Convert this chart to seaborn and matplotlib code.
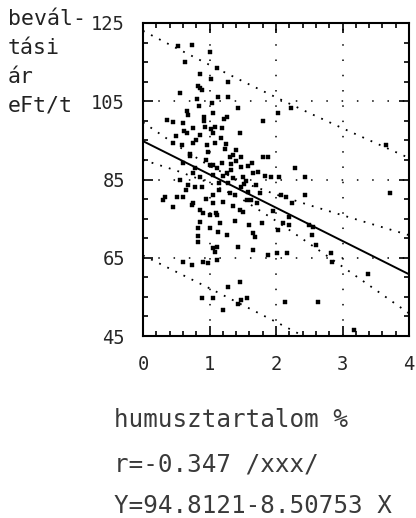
import numpy as np
import pandas as pd
import matplotlib
matplotlib.use("Agg")
import matplotlib.pyplot as plt
import seaborn as sns

# ---- data ----
humus = [0.53, 0.73, 1.00, 0.63, 0.86, 1.11, 1.28, 0.83, 0.88, 0.56, 1.13, 1.28, 0.81, 1.04,
         1.43, 0.66, 1.05, 1.26, 1.80, 2.22, 2.03, 0.36, 0.45, 0.60, 0.75, 0.93, 1.08, 1.19,
         1.46, 0.66, 0.86, 1.05, 0.45, 0.58, 0.75, 0.96, 1.08, 1.25, 1.31, 1.35, 1.47, 1.80,
         1.88, 1.64, 1.05, 1.19, 0.60, 1.32, 1.47, 2.28, 3.66, 0.75, 0.86, 1.05, 1.26, 1.50,
         1.65, 1.73, 1.92, 2.05, 2.43, 1.35, 3.71, 1.00, 1.11, 1.20, 0.68, 0.78, 0.88, 1.47,
         1.58, 1.38, 1.76, 2.07, 2.15, 2.43, 0.33, 0.51, 0.60, 1.05, 1.31, 0.30, 0.45, 0.75,
         1.05, 1.20, 1.56, 1.62, 2.24, 0.73, 0.86, 1.46, 1.50, 0.90, 1.00, 1.11, 2.20, 0.86,
         1.16, 1.79, 1.60, 2.10, 2.20, 2.50, 2.55, 0.83, 1.00, 2.03, 1.65, 1.13, 1.26, 0.83,
         1.68, 2.54, 2.60, 0.83, 1.43, 1.05, 1.11, 1.08, 1.65, 2.01, 2.16, 1.88, 2.82, 0.60,
         0.73, 0.90, 0.98, 1.11, 2.84, 3.38, 1.46, 1.28, 0.88, 1.05, 1.20, 1.43, 1.47, 1.56,
         2.13, 2.63, 3.18, 0.70, 0.95, 1.15, 1.40, 0.50, 1.22, 1.55, 0.92, 1.70, 1.36,
         0.62, 0.80, 0.98, 1.17, 1.33, 0.70, 0.91, 1.02, 1.23, 1.40, 0.55, 0.78, 1.14, 1.52,
         1.72, 1.96, 0.68, 0.84, 1.28, 1.58, 0.95, 1.10, 1.38, 1.84, 0.85, 1.03, 0.65]
price = [119.0, 119.5, 117.5, 115.0, 112.0, 113.5, 110.0, 109.0, 108.0, 107.0, 106.0, 106.0, 105.5, 104.5,
         103.3, 102.5, 102.0, 101.0, 100.0, 103.3, 102.0, 100.2, 99.7, 99.5, 98.1, 98.4, 98.3, 98.1,
         96.9, 96.9, 96.4, 96.9, 94.3, 93.8, 94.3, 93.8, 94.3, 94.0, 90.7, 91.2, 90.7, 90.7,
         90.7, 89.2, 88.7, 89.2, 89.2, 89.0, 88.2, 87.9, 93.8, 86.6, 85.6, 86.1, 86.6, 85.6,
         86.6, 86.9, 85.6, 85.6, 85.6, 85.4, 81.5, 88.7, 88.0, 86.0, 83.6, 83.0, 83.0, 83.0,
         81.8, 81.0, 81.5, 81.0, 80.5, 81.0, 80.5, 80.5, 80.5, 81.0, 81.5, 79.7, 78.0, 79.0,
         79.0, 79.2, 79.7, 79.7, 79.0, 78.4, 77.2, 77.2, 76.7, 76.4, 75.9, 75.9, 75.4, 74.1,
         73.8, 73.8, 73.3, 73.8, 73.3, 73.3, 72.8, 72.6, 72.6, 72.0, 71.3, 71.5, 70.8, 70.5,
         70.3, 70.8, 68.2, 69.0, 67.7, 67.5, 67.7, 66.4, 67.0, 66.2, 66.2, 65.7, 66.2, 63.9,
         63.1, 63.9, 63.6, 64.4, 63.9, 60.8, 58.8, 57.5, 54.6, 54.6, 51.6, 53.2, 54.2, 54.8,
         53.7, 53.7, 46.5, 91.5, 90.0, 84.0, 92.5, 96.0, 100.5, 84.5, 101.0, 83.5, 78.2,
         97.5, 95.2, 92.0, 95.5, 87.5, 91.0, 100.0, 97.8, 92.8, 89.8, 84.8, 88.0, 82.2, 83.8,
         79.0, 77.0, 101.5, 103.8, 84.0, 88.5, 80.0, 76.5, 74.5, 86.0, 108.5, 110.8, 82.4]

# regression line (from the printed equation) and the band curves
band_x = [0.0, 0.5, 1.0, 1.5, 2.0, 2.5, 3.0, 3.5, 4.0]
fit_y = [94.81, 90.56, 86.30, 82.05, 77.80, 73.54, 69.29, 65.04, 60.78]
conf_hi = [99.61, 93.83, 88.46, 84.26, 81.17, 78.45, 75.86, 73.31, 70.78]
conf_lo = [90.01, 87.29, 84.14, 79.84, 74.43, 68.63, 62.72, 56.77, 50.78]
pred_hi = [123.0, 118.6, 114.3, 110.1, 106.0, 102.0, 98.1, 94.3, 90.5]
pred_lo = [65.6, 61.4, 57.2, 52.9, 48.6, 44.2, 40.3, 35.7, 31.0]

x_ticks = [0, 1, 2, 3, 4]
y_ticks = [45, 65, 85, 105, 125]

ylabel_lines = ["bevál-", "tási", "ár", "eFt/t"]
xlabel = "humusztartalom %"
r_text = "r=-0.347 /xxx/"
eq_text = "Y=94.8121-8.50753 X"

# ---- drawing ----
sns.set_style("white")
plt.rcParams['font.family'] = ['DejaVu Sans Mono', 'DejaVu Sans']

W, H = 416, 518
fig = plt.figure(figsize=(W / 100, H / 100), dpi=100)
ax = fig.add_axes([143 / W, 1 - 336 / H, (409 - 143) / W, (336 - 23) / H])

pts = pd.DataFrame({"x": humus, "y": price})
sns.scatterplot(data=pts, x="x", y="y", ax=ax, marker="s", s=12, color="black",
                edgecolor="black", linewidth=0.3, zorder=3)

bands = pd.DataFrame({"x": band_x, "fit": fit_y, "chi": conf_hi, "clo": conf_lo,
                      "phi": pred_hi, "plo": pred_lo})
sns.lineplot(data=bands, x="x", y="fit", ax=ax, color="black", lw=1.4, zorder=4)
for col in ["chi", "clo", "phi", "plo"]:
    sns.lineplot(data=bands, x="x", y=col, ax=ax, color="black", lw=1.3,
                 linestyle=(0, (1, 4)), zorder=4)

ax.set_xlim(0, 4)
ax.set_ylim(45, 125)
ax.set_xticks(x_ticks)
ax.set_xticklabels([str(t) for t in x_ticks])
ax.set_yticks(y_ticks)
ax.set_yticklabels([str(t) for t in y_ticks])
ax.set_xticks(np.arange(0, 4.01, 0.2), minor=True)
ax.set_yticks(np.arange(45, 125.1, 5), minor=True)
ax.tick_params(which="both", direction="in", top=True, right=True, bottom=True, left=True,
               color="black", width=1.2)
ax.tick_params(which="major", length=7, labelsize=13.5)
ax.tick_params(which="minor", length=3.5)
ax.tick_params(axis="y", which="major", pad=13)
ax.tick_params(axis="x", which="major", pad=14)
for sp in ax.spines.values():
    sp.set_linewidth(1.5)
    sp.set_color("black")
ax.grid(True, which="major", color="black", linestyle=(0, (1, 9)), lw=1.1)
ax.set_xlabel("")
ax.set_ylabel("")

# y-axis caption in top-left corner
fig.text(8 / W, 1 - 9 / H, "\n".join(ylabel_lines), ha="left", va="top",
         fontsize=15.5, color="#222222", linespacing=1.55)

# bottom captions
for txt, yc in [(xlabel, 420), (r_text, 464), (eq_text, 506)]:
    fig.text(114 / W, 1 - yc / H, txt, ha="left", va="center", fontsize=17.5,
             color="#3a3a3a")

fig.savefig("out.png", dpi=100)
